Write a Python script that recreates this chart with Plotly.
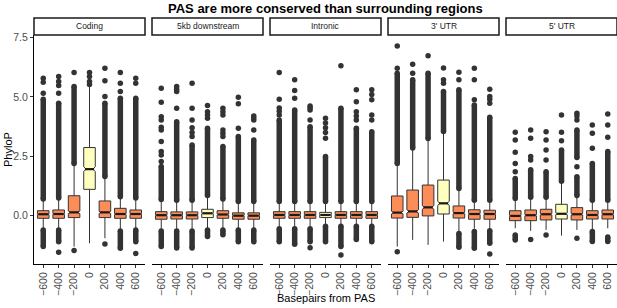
import plotly.graph_objects as go

# ---------------- data ----------------
facets = ["Coding", "5kb downstream", "Intronic", "3' UTR", "5' UTR"]
positions = ["\u2212600", "\u2212400", "\u2212200", "0", "200", "400", "600"]
highlight = "0"

q1 = {
    "Coding":         [-0.11, -0.11, -0.08, 1.11, -0.08, -0.11, -0.11],
    "5kb downstream": [-0.15, -0.14, -0.14, -0.08, -0.11, -0.15, -0.15],
    "Intronic":       [-0.11, -0.11, -0.11, -0.08, -0.11, -0.11, -0.11],
    "3' UTR":         [-0.10, -0.07, -0.01, 0.07, -0.10, -0.15, -0.15],
    "5' UTR":         [-0.21, -0.21, -0.18, -0.14, -0.18, -0.14, -0.14],
}
median = {
    "Coding":         [0.06, 0.07, 0.14, 1.96, 0.14, 0.07, 0.07],
    "5kb downstream": [0.02, 0.02, 0.02, 0.10, 0.05, 0.00, 0.00],
    "Intronic":       [0.03, 0.03, 0.03, 0.03, 0.03, 0.03, 0.03],
    "3' UTR":         [0.13, 0.18, 0.35, 0.52, 0.11, 0.07, 0.07],
    "5' UTR":         [-0.01, 0.02, 0.06, 0.08, 0.06, 0.03, 0.06],
}
q3 = {
    "Coding":         [0.21, 0.24, 0.84, 2.87, 0.62, 0.31, 0.24],
    "5kb downstream": [0.17, 0.16, 0.16, 0.27, 0.21, 0.12, 0.12],
    "Intronic":       [0.17, 0.17, 0.17, 0.14, 0.17, 0.17, 0.17],
    "3' UTR":         [0.83, 1.08, 1.29, 1.50, 0.41, 0.25, 0.23],
    "5' UTR":         [0.21, 0.24, 0.27, 0.48, 0.34, 0.21, 0.24],
}
lower_whisker = {
    "Coding":         [-0.55, -0.55, -1.30, -1.16, -0.95, -0.60, -0.55],
    "5kb downstream": [-0.60, -0.60, -0.60, -0.55, -0.55, -0.55, -0.55],
    "Intronic":       [-0.50, -0.50, -0.50, -0.40, -0.40, -0.40, -0.40],
    "3' UTR":         [-1.30, -1.02, -1.23, -1.09, -0.70, -0.55, -0.55],
    "5' UTR":         [-0.53, -0.64, -0.60, -0.84, -0.60, -0.60, -0.53],
}
upper_whisker = {
    "Coding":         [0.65, 0.70, 2.14, 5.44, 1.60, 0.75, 0.70],
    "5kb downstream": [0.62, 0.60, 0.60, 0.80, 0.65, 0.55, 0.55],
    "Intronic":       [0.55, 0.55, 0.55, 0.55, 0.55, 0.55, 0.55],
    "3' UTR":         [2.14, 2.77, 3.19, 3.50, 1.10, 0.60, 0.60],
    "5' UTR":         [0.66, 0.73, 0.73, 1.39, 0.80, 0.60, 0.60],
}
# dense runs of outliers (from, to) per position
outlier_runs = {
    "Coding": [[(0.70, 4.90), (-0.60, -1.30)], [(0.75, 4.74), (-0.60, -1.10)],
               [(2.20, 5.44)], [], [(1.65, 4.74)],
               [(0.80, 4.95), (-0.65, -1.37)], [(0.75, 4.95), (-0.60, -1.10)]],
    "5kb downstream": [[(0.68, 2.07), (-0.65, -1.30)], [(0.65, 3.96), (-0.65, -1.36)],
                       [(0.65, 2.98), (-0.65, -1.36)], [(0.85, 3.68), (-0.60, -0.88)],
                       [(0.70, 2.91), (-0.60, -0.80)], [(0.60, 3.33), (-0.60, -1.10)],
                       [(0.60, 3.19), (-0.60, -1.10)]],
    "Intronic": [[(0.60, 4.03), (-0.55, -1.10)], [(0.60, 4.45), (-0.55, -1.20)],
                 [(0.60, 3.75), (-0.55, -1.10)], [(0.60, 2.49), (-0.45, -1.10)],
                 [(0.60, 4.53), (-0.45, -1.30)], [(0.60, 3.68), (-0.45, -1.00)],
                 [(0.60, 3.54), (-0.45, -1.10)]],
    "3' UTR": [[(2.20, 6.00)], [(2.85, 5.72)], [(3.25, 6.00)], [(3.55, 5.23)],
               [(1.15, 5.30), (-0.75, -1.33)], [(0.65, 4.66), (-0.67, -1.37)],
               [(0.65, 4.15), (-0.63, -1.16)]],
    "5' UTR": [[(0.72, 1.57), (-0.81, -1.02)], [(0.78, 1.93)], [(0.78, 1.85)],
               [(1.45, 2.77)], [(0.85, 1.64), (2.45, 3.61)],
               [(0.65, 2.20), (-0.67, -1.09)], [(0.65, 2.70), (-0.90, -1.09)]],
}
# isolated outliers per position
outlier_points = {
    "Coding": [[5.16, 5.62, 5.79], [5.16, 5.48, 5.65, 5.86, -1.54], [6.03, -1.47],
               [5.52, 5.65, 5.86, 6.03], [5.02, 5.68, 6.21, -1.19],
               [5.23, 5.58, 6.03], [5.58, 5.79, -1.59]],
    "5kb downstream": [[2.28, 2.56, 2.70, 3.12, 3.61, 3.72, 4.03, 4.17, 4.78, 5.37],
                       [4.53, 5.23, 5.33, 5.44], [3.33, 3.50, 3.70, 4.03, 4.53, 5.58],
                       [4.10, 4.24, 4.38, 4.64], [3.33, 3.47, 3.61, 4.24, 4.38, 4.53],
                       [3.68, 4.71, 4.99], [3.61, 4.03, 4.12, 4.20]],
    "Intronic": [[4.24, 4.40, 4.54, 4.90, 6.03], [4.95, 5.27, 5.72],
                 [4.03, 4.45, 4.55, 4.62, -1.35], [3.26, 3.50, 3.70, 3.90, 4.10],
                 [6.31, -1.66], [4.03, 4.20, 4.38, 4.80, 5.30], [4.03, 4.24, 4.88, 5.10, 5.30]],
    "3' UTR": [[6.21, 7.15, -1.52], [6.00, 6.38], [6.74], [5.58, 5.72, 6.22],
               [5.72, 6.04], [4.88, 5.72, 6.21], [4.74, 4.90, 5.02, 5.33, -1.61]],
    "5' UTR": [[1.85, 2.20, 2.67, 3.19, 3.51], [2.35, 2.49, 3.26, 3.61, -1.00],
               [2.35, 2.77, 3.19, 3.54, -0.81], [3.16, 3.51, 4.24],
               [2.06, 4.03, 4.20, 4.31, -0.95], [2.84, 3.47, 3.82], [3.30, 3.82, 4.28]],
}
y_ticks = [0.0, 2.5, 5.0, 7.5]

# ---------------- style ----------------
ORANGE = "#FC8D59"
YELLOW = "#FFFFBF"
DARK = "#333333"
FONT = "Liberation Sans, Arial, sans-serif"
BOX_W = 0.75
NOTCH_W = 0.2
PT = 5.5

W, H = 617, 308
ML, MR, MT, MB = 34, 0, 35, 44
plot_w = W - ML - MR
plot_h = H - MT - MB
panel_w, gap = 111, 7

def py(p):  # pixel row -> paper y
    return (H - MB - p) / plot_h

fig = go.Figure()
layout = dict()
xs = list(range(len(positions)))

for k, f in enumerate(facets):
    xa = "x" if k == 0 else f"x{k+1}"
    ya = "y" if k == 0 else f"y{k+1}"
    d0 = (k * (panel_w + gap)) / plot_w
    d1 = min(1.0, (k * (panel_w + gap) + panel_w) / plot_w)

    rx, ry = [], []
    for i, runs in enumerate(outlier_runs[f]):
        for lo, hi in runs:
            rx += [i, i, None]
            ry += [lo, hi, None]
    fig.add_trace(go.Scatter(x=rx, y=ry, mode="lines+markers", xaxis=xa, yaxis=ya,
                             line=dict(color=DARK, width=PT),
                             marker=dict(color=DARK, size=PT), showlegend=False,
                             hoverinfo="skip"))
    px_, py_ = [], []
    for i, pts in enumerate(outlier_points[f]):
        for v in pts:
            px_.append(i)
            py_.append(v)
    fig.add_trace(go.Scatter(x=px_, y=py_, mode="markers", xaxis=xa, yaxis=ya,
                             marker=dict(color=DARK, size=PT), showlegend=False,
                             hoverinfo="skip"))

    for colour, sel in ((ORANGE, [i for i, p in enumerate(positions) if p != highlight]),
                        (YELLOW, [i for i, p in enumerate(positions) if p == highlight])):
        fig.add_trace(go.Box(
            x=[xs[i] for i in sel],
            q1=[q1[f][i] for i in sel],
            median=[median[f][i] for i in sel],
            q3=[q3[f][i] for i in sel],
            lowerfence=[lower_whisker[f][i] for i in sel],
            upperfence=[upper_whisker[f][i] for i in sel],
            notched=True,
            notchspan=[0.06 * (q3[f][i] - q1[f][i]) for i in sel],
            notchwidth=NOTCH_W,
            width=BOX_W,
            whiskerwidth=0,
            fillcolor=colour,
            line=dict(color=DARK, width=1),
            boxpoints=False,
            xaxis=xa, yaxis=ya, showlegend=False, hoverinfo="skip",
        ))
    mx, my = [], []
    hw = BOX_W / 2 * (1 - NOTCH_W)
    for i in xs:
        mx += [i - hw, i + hw, None]
        my += [median[f][i], median[f][i], None]
    fig.add_trace(go.Scatter(x=mx, y=my, mode="lines", xaxis=xa, yaxis=ya,
                             line=dict(color="#1a1a1a", width=2.2),
                             showlegend=False, hoverinfo="skip"))

    xkey = "xaxis" if k == 0 else f"xaxis{k+1}"
    ykey = "yaxis" if k == 0 else f"yaxis{k+1}"
    layout[xkey] = dict(domain=[d0, d1], range=[-0.6, 6.6], anchor=ya,
                        tickmode="array", tickvals=xs, ticktext=positions,
                        tickangle=-90, showline=True, linecolor="black", linewidth=1.1,
                        ticks="outside", ticklen=3, tickcolor=DARK,
                        tickfont=dict(size=10.5, color="#4d4d4d", family=FONT),
                        showgrid=False, zeroline=False, fixedrange=True,
                        automargin=False)
    yax = dict(range=[-2.035, 7.61], anchor=xa, showgrid=False, zeroline=False,
               fixedrange=True, automargin=False)
    if k == 0:
        yax.update(tickmode="array", tickvals=y_ticks,
                   ticktext=[f"{v:.1f}" for v in y_ticks],
                   showline=True, linecolor="black", linewidth=1.1,
                   ticks="outside", ticklen=3, tickcolor=DARK,
                   tickfont=dict(size=10.5, color="#4d4d4d", family=FONT))
    else:
        yax.update(matches="y", showticklabels=False, showline=False, ticks="")
    layout[ykey] = yax

shapes, annotations = [], []
for k, f in enumerate(facets):
    d0 = (k * (panel_w + gap)) / plot_w
    d1 = min(1.0, (k * (panel_w + gap) + panel_w) / plot_w)
    shapes.append(dict(type="rect", xref="paper", yref="paper",
                       x0=d0, x1=d1, y0=py(35), y1=py(18),
                       line=dict(color="#1a1a1a", width=1.5), fillcolor="white"))
    annotations.append(dict(text=f, xref="paper", yref="paper", x=(d0 + d1) / 2,
                            y=py(26.5), showarrow=False, xanchor="center",
                            yanchor="middle",
                            font=dict(size=8.5, color="#1a1a1a", family=FONT)))

annotations.append(dict(text="<b>PAS are more conserved than surrounding regions</b>",
                        xref="paper", yref="paper", x=0.5, y=py(8.5), showarrow=False,
                        xanchor="center", yanchor="middle",
                        font=dict(size=13, color="black", family=FONT)))
annotations.append(dict(text="Basepairs from PAS", xref="paper", yref="paper",
                        x=0.5, y=py(298), showarrow=False, xanchor="center",
                        yanchor="middle", font=dict(size=11, color="black", family=FONT)))
annotations.append(dict(text="PhyloP", xref="paper", yref="paper",
                        x=(8 - ML) / plot_w, y=py(150), showarrow=False,
                        xanchor="center", yanchor="middle", textangle=-90,
                        font=dict(size=11, color="black", family=FONT)))

fig.update_layout(
    width=W, height=H,
    margin=dict(l=ML, r=MR, t=MT, b=MB, pad=0, autoexpand=False),
    paper_bgcolor="white", plot_bgcolor="white",
    boxmode="overlay",
    shapes=shapes, annotations=annotations,
    showlegend=False,
    font=dict(family=FONT),
    **layout,
)

fig.write_html("out.html", config={"displayModeBar": False},
               post_script="document.body.style.margin='0';document.body.style.overflow='hidden';")
